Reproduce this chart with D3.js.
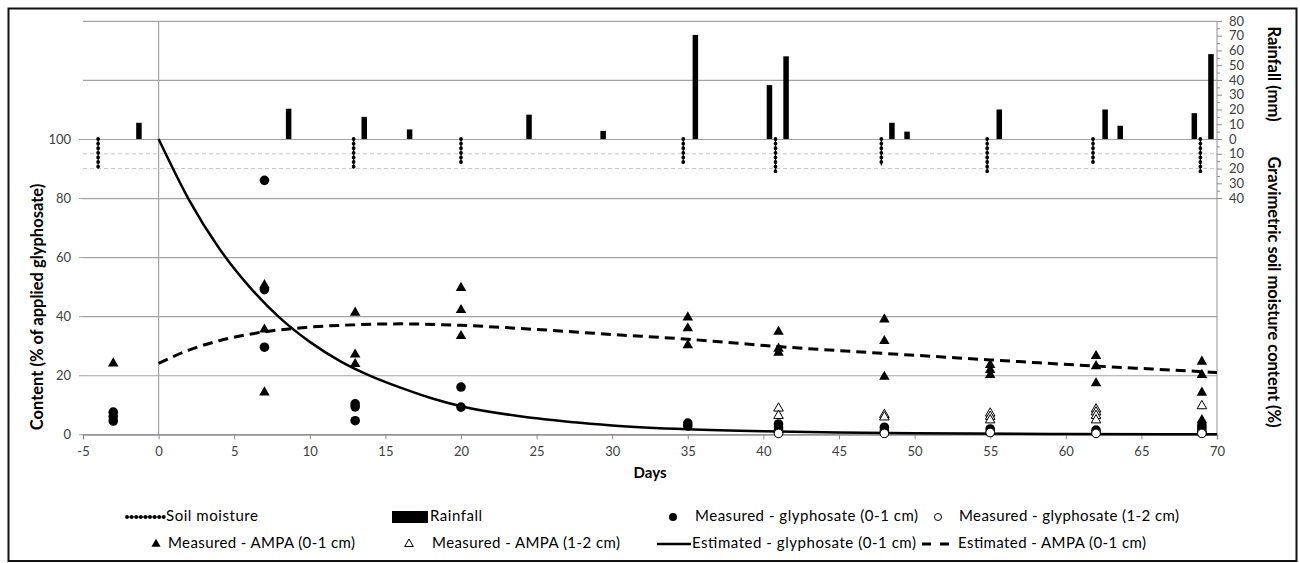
<!DOCTYPE html>
<html><head><meta charset="utf-8">
<script src="https://cdn.jsdelivr.net/npm/d3@7/dist/d3.min.js"></script>
<style>body{margin:0;background:#fff}svg{display:block}text{font-family:Lato,"Open Sans",sans-serif}</style>
</head><body><svg id="c" width="1300" height="563"></svg>
<script>
// ---------- data ----------
const xTicks = [-5,0,5,10,15,20,25,30,35,40,45,50,55,60,65,70];
const leftTicks = [0,20,40,60,80,100];
const gridTicks = [0,20,40,60,80,100,120,140];
const rainTicks = [0,10,20,30,40,50,60,70,80];
const moistTicks = [10,20,30,40];

const rainDays = [-1.3, 8.6, 13.6, 16.6, 24.5, 29.4, 35.5, 40.4, 41.5, 48.5, 49.5, 55.6, 62.6, 63.6, 68.5, 69.6];
const rainMm   = [11, 20.5, 15, 6.5, 16.5, 5.5, 70.5, 36.5, 56, 11, 5, 20, 20, 9, 17.5, 57.5];

const moistDays = [-4, 12.9, 20, 34.7, 40.8, 47.8, 54.8, 61.8, 68.9];
const moistVals = [20, 20, 17, 17, 23, 18, 22, 16.5, 22];

const glyTopDays = [-3,-3,-3, 7,7,7, 13,13,13, 20,20, 35,35, 41,41,41,41, 48,48,48, 55,55, 62,62, 69,69,69,69];
const glyTopVals = [7.5,6,4.5, 86,49,29.5, 10.3,9.3,4.6, 16,9.2, 3.8,2.8, 3.5,2.5,1.5,0.6, 2.4,1.2,0.4, 1.8,0.7, 1.4,0.5, 3,2,1,0.4];

const glySubDays = [41,48,55,62,69];
const glySubVals = [0.3,0.3,0.6,0.3,0.3];

const ampaTopDays = [-3, 7,7,7, 13,13,13, 20,20,20, 35,35,35, 41,41,41, 48,48,48, 55,55,55, 62,62,62, 69,69,69,69];
const ampaTopVals = [24, 50.5,35.5,14.2, 41.2,27,23.8, 49.6,42.1,33.3, 39.6,35.9,30.2, 34.7,29,27.6, 38.9,31.6,19.5, 23.5,21.8,20.1, 26.5,23.1,17.3, 24.6,20.1,14.1,4.8];

const ampaSubDays = [41,41, 48,48, 55,55,55, 62,62,62,62, 69];
const ampaSubVals = [8.8,6.3, 6.6,5.8, 7.1,6,4.8, 8.5,7.5,6.3,4.8, 9.6];

const estGlyDays = [0, 2, 4, 6, 8, 10, 12, 14, 16, 18, 20, 25, 30, 35, 40, 45, 50, 60, 70];
const estGlyVals = [100, 79.5, 63, 50, 39.5, 31.3, 24.8, 19.8, 15.8, 12.3, 9.5, 5.4, 3, 1.7, 1, 0.6, 0.35, 0.12, 0.04];

const estAmpaDays = [0, 2, 4, 7, 10, 13, 16, 20, 25, 30, 35, 41, 48, 55, 62, 69, 70];
const estAmpaVals = [24, 28.5, 31.7, 34.7, 36.3, 37.1, 37.4, 36.9, 35.5, 33.8, 32.2, 29.7, 27.4, 25.2, 23.1, 21.2, 20.9];

// ---------- scales ----------
const svg = d3.select("#c");
const x = d3.scaleLinear().domain([-5,70]).range([83,1217]);
const yL = d3.scaleLinear().domain([0,140]).range([434.3,20.9]);
const yRain = d3.scaleLinear().domain([0,80]).range([yL(100), yL(140)]);
const yMoist = d3.scaleLinear().domain([0,40]).range([yL(100), yL(80)]);
const grid = "#a3a3a3", lab = "#404040";
const plain = d => String(d);

// frame
svg.append("rect").attr("x",8.5).attr("y",8.5).attr("width",1288).attr("height",552.5)
  .attr("fill","none").attr("stroke","#111").attr("stroke-width",2);

// gridlines
const g = svg.append("g").attr("transform",`translate(${x(-5)},0)`)
  .call(d3.axisLeft(yL).tickValues(gridTicks).tickSize(-(x(70)-x(-5))).tickFormat(""));
g.select(".domain").remove();
g.selectAll("line").attr("stroke",grid).attr("stroke-width",1.2);

// dashed light lines at moisture 10,20
svg.append("g").selectAll("line").data([10,20]).join("line")
  .attr("x1",x(-5)).attr("x2",x(70)).attr("y1",d=>yMoist(d)).attr("y2",d=>yMoist(d))
  .attr("stroke","#c8c8c8").attr("stroke-dasharray","4,3").attr("stroke-width",1);

// vertical zero line
svg.append("line").attr("x1",x(0)).attr("x2",x(0)).attr("y1",yL(0)).attr("y2",yL(140))
  .attr("stroke",grid).attr("stroke-width",1.2);

// left labels
const gl = svg.append("g").attr("transform",`translate(${x(-5)},0)`)
  .call(d3.axisLeft(yL).tickValues(leftTicks).tickSize(4).tickPadding(8).tickFormat(plain));
gl.select(".domain").remove();
gl.selectAll("line").attr("stroke",grid);
gl.selectAll("text").attr("font-size",13).attr("fill",lab).style("font-family","Lato");

// x axis
const gx = svg.append("g").attr("transform",`translate(0,${yL(0)})`)
  .call(d3.axisBottom(x).tickValues(xTicks).tickSize(5).tickPadding(7).tickFormat(plain));
gx.select(".domain").attr("stroke","#8a8a8a").attr("stroke-width",1.3);
gx.selectAll("line").attr("stroke","#8a8a8a");
gx.selectAll("text").attr("font-size",13).attr("fill",lab).style("font-family","Lato");

// right axis
const minorRain = d3.range(5,80,10), minorMoist = d3.range(5,40,10);
svg.append("line").attr("x1",x(70)).attr("x2",x(70)).attr("y1",yL(0)).attr("y2",yL(140))
  .attr("stroke",grid).attr("stroke-width",1.2);
function rAxis(scale, ticks, size, labels){
  const a = svg.append("g").attr("transform",`translate(${x(70)},0)`)
    .call(d3.axisRight(scale).tickValues(ticks).tickSize(size).tickPadding(7).tickFormat(labels?plain:""));
  a.select(".domain").remove();
  a.selectAll("line").attr("stroke","#8a8a8a");
  a.selectAll("text").attr("font-size",13).attr("fill",lab).style("font-family","Lato");
}
rAxis(yRain, rainTicks, 5, true);
rAxis(yRain, minorRain, 3, false);
rAxis(yMoist, moistTicks, 5, true);
rAxis(yMoist, minorMoist, 3, false);

// rainfall bars
const bw = 5.5;
svg.append("g").selectAll("rect").data(rainDays.map((d,i)=>[d,rainMm[i]])).join("rect")
  .attr("x",d=>x(d[0])-bw/2).attr("width",bw)
  .attr("y",d=>yRain(d[1])).attr("height",d=>yRain(0)-yRain(d[1])).attr("fill","#000");

// soil moisture
function moistMark(sel){
  sel.append("path").attr("stroke","#000").attr("stroke-width",1.2).attr("fill","none");
  sel.append("path").attr("stroke","#000").attr("stroke-width",3.8).attr("stroke-linecap","round")
    .attr("stroke-dasharray","0,4.6").attr("fill","none");
}
const mg = svg.append("g").selectAll("g").data(moistDays.map((d,i)=>[d,moistVals[i]])).join("g");
moistMark(mg);
mg.selectAll("path").attr("d",function(){const d=d3.select(this.parentNode).datum();
  return d3.line()([[x(d[0]),yMoist(0)],[x(d[0]),yMoist(d[1])]]);});

// estimated curves
svg.append("path").datum(estGlyDays.map((d,i)=>[d,estGlyVals[i]]))
  .attr("d",d3.line().x(d=>x(d[0])).y(d=>yL(d[1])).curve(d3.curveMonotoneX))
  .attr("fill","none").attr("stroke","#000").attr("stroke-width",2.5);
svg.append("path").datum(estAmpaDays.map((d,i)=>[d,estAmpaVals[i]]))
  .attr("d",d3.line().x(d=>x(d[0])).y(d=>yL(d[1])).curve(d3.curveMonotoneX))
  .attr("fill","none").attr("stroke","#000").attr("stroke-width",3).attr("stroke-dasharray","10,6");

// markers
const tri = d3.symbol(d3.symbolTriangle, 48);
svg.append("g").selectAll("circle").data(glyTopDays.map((d,i)=>[d,glyTopVals[i]])).join("circle")
  .attr("cx",d=>x(d[0])).attr("cy",d=>yL(d[1])).attr("r",4.8).attr("fill","#000");
svg.append("g").selectAll("circle").data(glySubDays.map((d,i)=>[d,glySubVals[i]])).join("circle")
  .attr("cx",d=>x(d[0])).attr("cy",d=>yL(d[1])).attr("r",4.3).attr("fill","#fff").attr("stroke","#000").attr("stroke-width",1);
svg.append("g").selectAll("path").data(ampaTopDays.map((d,i)=>[d,ampaTopVals[i]])).join("path")
  .attr("d",tri).attr("transform",d=>`translate(${x(d[0])},${yL(d[1])})`).attr("fill","#000");
svg.append("g").selectAll("path").data(ampaSubDays.map((d,i)=>[d,ampaSubVals[i]])).join("path")
  .attr("d",d3.symbol(d3.symbolTriangle, 40)).attr("transform",d=>`translate(${x(d[0])},${yL(d[1])})`)
  .attr("fill","#fff").attr("stroke","#000").attr("stroke-width",1);

// axis titles
svg.append("text").attr("transform","translate(43,307) rotate(-90)").attr("text-anchor","middle")
  .attr("font-size",16.5).attr("font-weight","bold").text("Content (% of applied glyphosate)");
svg.append("text").attr("transform","translate(1268,74) rotate(90)").attr("text-anchor","middle")
  .attr("font-size",16.5).attr("font-weight","bold").text("Rainfall (mm)");
svg.append("text").attr("transform","translate(1268,292) rotate(90)").attr("text-anchor","middle")
  .attr("font-size",16.5).attr("font-weight","bold").text("Gravimetric soil moisture content (%)");
svg.append("text").attr("x",650).attr("y",478).attr("text-anchor","middle")
  .attr("font-size",15).attr("font-weight","bold").text("Days");

// legend
const L = svg.append("g").attr("font-size",15);
const r1 = 517, r2 = 544;
const lt = (xx,yy,t,w)=>L.append("text").attr("x",xx).attr("y",yy).attr("dominant-baseline","middle")
  .attr("textLength",w).attr("lengthAdjust","spacing").text(t);
const lm = L.append("g").datum([0,0]);
moistMark(lm);
lm.selectAll("path").attr("d",d3.line()([[127,r1],[164,r1]]));
lt(166,r1,"Soil moisture",92);
L.append("rect").attr("x",392).attr("y",r1-6).attr("width",36).attr("height",12).attr("fill","#000");
lt(430,r1,"Rainfall",52);
L.append("circle").attr("cx",673).attr("cy",r1).attr("r",4).attr("fill","#000");
lt(695,r1,"Measured - glyphosate (0-1 cm)",223);
L.append("circle").attr("cx",938).attr("cy",r1).attr("r",3.5).attr("fill","#fff").attr("stroke","#000");
lt(959,r1,"Measured - glyphosate (1-2 cm)",220);
L.append("path").attr("d",d3.symbol(d3.symbolTriangle,36)).attr("transform",`translate(156,${r2})`).attr("fill","#000");
lt(168,r2,"Measured - AMPA (0-1 cm)",187);
L.append("path").attr("d",d3.symbol(d3.symbolTriangle,32)).attr("transform",`translate(409,${r2})`).attr("fill","#fff").attr("stroke","#000");
lt(432,r2,"Measured - AMPA (1-2 cm)",188);
L.append("line").attr("x1",657).attr("x2",691).attr("y1",r2).attr("y2",r2).attr("stroke","#000").attr("stroke-width",2.5);
lt(692,r2,"Estimated - glyphosate (0-1 cm)",224);
L.append("line").attr("x1",922).attr("x2",949).attr("y1",r2).attr("y2",r2).attr("stroke","#000").attr("stroke-width",3).attr("stroke-dasharray","9,9");
lt(958,r2,"Estimated - AMPA (0-1 cm)",188);
</script></body></html>
